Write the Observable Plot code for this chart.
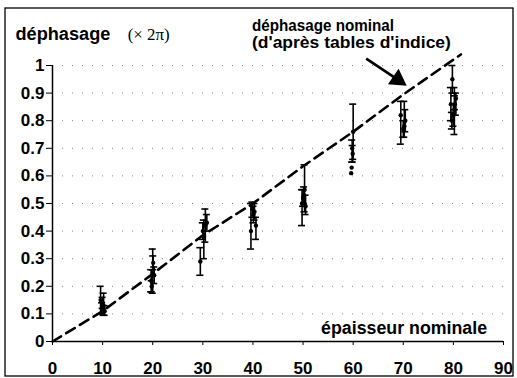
<!DOCTYPE html>
<html><head><meta charset="utf-8">
<script src="https://cdn.jsdelivr.net/npm/d3@7"></script>
<script src="https://cdn.jsdelivr.net/npm/@observablehq/plot@0.6"></script>
<style>body{margin:0;background:#fff;} #c{position:relative;width:517px;height:378px;}</style>
</head><body><div id="c"></div>
<script>
// measured points (x = épaisseur, y = déphasage ×2π, lo/hi = error bar ends)
const xs = [9.6,10.2,9.9,10.4,10.0, 20.0,19.7,20.3,20.1,19.8, 29.5,30.5,30.2,30.8,30.0, 39.6,39.9,40.6,40.1,40.3, 49.8,50.3,50.0,50.5,50.2, 60.0,59.8,59.9,59.7,59.6, 69.5,70.2,70.0,70.4, 79.8,79.5,80.2,80.5,80.0,79.7,80.3];
const ys = [0.15,0.13,0.12,0.11,0.14, 0.25,0.22,0.24,0.285,0.20, 0.29,0.42,0.38,0.43,0.40, 0.40,0.48,0.42,0.46,0.47, 0.50,0.55,0.52,0.49,0.53, 0.76,0.70,0.68,0.63,0.61, 0.82,0.78,0.77,0.80, 0.95,0.86,0.84,0.88,0.82,0.80,0.86];
const lo = [0.10,0.095,0.10,0.095,0.12, 0.175,0.18,0.21,0.26,0.18, 0.24,0.36,0.30,0.40,0.37, 0.335,0.45,0.37,0.43,0.44, 0.42,0.47,0.49,0.46,0.50, 0.66,0.65,0.65,0.63,0.61, 0.715,0.74,0.74,0.76, 0.90,0.80,0.75,0.82,0.78,0.77,0.84];
const hi = [0.20,0.175,0.14,0.13,0.16, 0.335,0.26,0.27,0.31,0.22, 0.34,0.48,0.44,0.46,0.43, 0.50,0.505,0.45,0.49,0.50, 0.55,0.64,0.55,0.53,0.56, 0.86,0.73,0.71,0.63,0.61, 0.87,0.87,0.80,0.84, 1.00,0.92,0.92,0.90,0.86,0.83,0.89];
// nominal phase shift (from index tables)
const nomX = [0,10,20,30,40,50,60,70,81.5];
const nomY = [0,0.11,0.245,0.385,0.50,0.635,0.76,0.895,1.04];
const xTicks = [0,10,20,30,40,50,60,70,80,90];
const yTicks = [0,0.1,0.2,0.3,0.4,0.5,0.6,0.7,0.8,0.9,1];
const noteLines = ["déphasage nominal", "(d'après tables d'indice)"];

const pts = xs.map((x,i)=>({x, y: ys[i], lo: lo[i], hi: hi[i]}));
const bars = pts.filter(d => d.hi > d.lo);
const nom = nomX.map((x,i)=>({x, y: nomY[i]}));
const cap = 0.7;

// arrow annotation (data coordinates)
const arrow = {x1: 62.6, y1: 1.025, x2: 68.9, y2: 0.949};
const head = {x: 68.9, y: 0.949, angle: 124.4};

const font = "Liberation Sans, Arial, sans-serif";
const fmt = d => String(d);
const chart = Plot.plot({
  width: 517, height: 378,
  marginLeft: 52, marginRight: 14, marginTop: 65, marginBottom: 37,
  style: {fontFamily: font, fontSize: "17px", fontWeight: "bold", color: "#000", background: "#fff"},
  x: {domain: [0,90], label: null},
  y: {domain: [0,1], label: null},
  marks: [
    Plot.gridY(yTicks.slice(1), {stroke: "#666", strokeOpacity: 0.8, strokeDasharray: "1,9", strokeWidth: 1}),
    Plot.axisX({ticks: xTicks, tickSize: 4, tickPadding: 16, fontSize: 17, fontWeight: "bold", tickFormat: fmt, label: null}),
    Plot.axisY({ticks: yTicks, tickSize: 6, tickPadding: 2, fontSize: 17, fontWeight: "bold", tickFormat: fmt, label: null}),
    Plot.ruleY([0], {stroke: "#000", strokeWidth: 1.5}),
    Plot.ruleX([0], {stroke: "#000", strokeWidth: 1.5}),
    Plot.line(nom, {x: "x", y: "y", stroke: "#000", strokeWidth: 2.6, strokeDasharray: "10,6", clip: false}),
    Plot.ruleX(bars, {x: "x", y1: "lo", y2: "hi", stroke: "#000", strokeWidth: 1.6}),
    Plot.ruleY(bars, {y: "hi", x1: d => d.x - cap, x2: d => d.x + cap, stroke: "#000", strokeWidth: 1.6}),
    Plot.ruleY(bars, {y: "lo", x1: d => d.x - cap, x2: d => d.x + cap, stroke: "#000", strokeWidth: 1.6}),
    Plot.dot(pts, {x: "x", y: "y", r: 2.2, fill: "#000", stroke: "none"}),
    Plot.link([arrow], {x1: "x1", y1: "y1", x2: "x2", y2: "y2", stroke: "#000", strokeWidth: 2.6, clip: false}),
    Plot.dot([head], {x: "x", y: "y", symbol: "triangle", rotate: "angle", r: 7, fill: "#000", stroke: "none", clip: false}),
    Plot.text([noteLines[0]], {x: 39.8, y: 1.145, text: d => d, textAnchor: "start", fontSize: 16.5, fontWeight: "bold", clip: false}),
    Plot.text([noteLines[1]], {x: 39.8, y: 1.082, text: d => d, textAnchor: "start", fontSize: 17, fontWeight: "bold", clip: false}),
    Plot.text(["déphasage"], {x: -7.4, y: 1.115, text: d => d, textAnchor: "start", fontSize: 18, fontWeight: "bold", clip: false}),
    Plot.text(["(× 2π)"], {x: 15.0, y: 1.112, text: d => d, textAnchor: "start", fontSize: 16, fontWeight: "normal", fontFamily: "Liberation Serif, serif", clip: false}),
    Plot.text(["épaisseur nominale"], {x: 53.6, y: 0.047, text: d => d, textAnchor: "start", fontSize: 17.5, fontWeight: "bold"})
  ]
});
document.getElementById("c").appendChild(chart);
// fit annotation widths to the reference
const widths = {"déphasage nominal": 142, "(d'après tables d'indice)": 199, "déphasage": 95, "(× 2π)": 42, "épaisseur nominale": 166};
d3.select(chart).selectAll("text").each(function() {
  const w = widths[this.textContent];
  if (w) { this.setAttribute("textLength", w); this.setAttribute("lengthAdjust", "spacingAndGlyphs"); }
});
d3.select(chart).append("rect").attr("x", 5).attr("y", 8).attr("width", 508).attr("height", 368)
  .attr("fill", "none").attr("stroke", "#000").attr("stroke-width", 1.3);
</script></body></html>
